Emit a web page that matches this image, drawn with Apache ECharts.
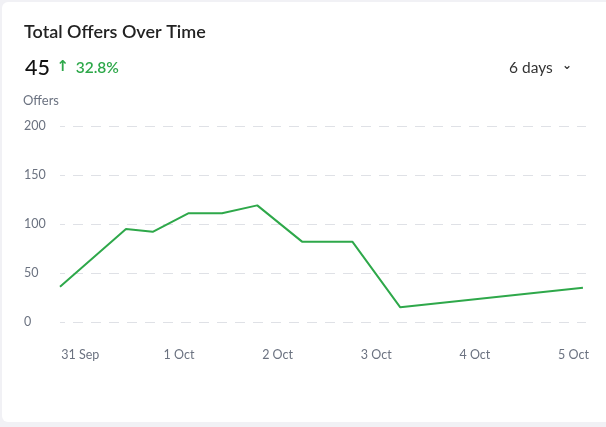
<!DOCTYPE html>
<html>
<head>
<meta charset="utf-8">
<script src="https://cdn.jsdelivr.net/npm/echarts@6/dist/echarts.min.js"></script>
<style>
  html, body { margin: 0; padding: 0; background: #f1f1f5; width: 606px; height: 427px; overflow: hidden; }
  #card { position: absolute; left: 2px; top: 2px; width: 610px; height: 420px; background: #ffffff; border-radius: 6px; }
  #chart { position: absolute; left: 0; top: 0; width: 606px; height: 427px; }
</style>
</head>
<body>
<div id="card"></div>
<div id="chart"></div>
<script>
// Tick labels for the x axis (placed at day positions 0..5)
const dayLabels = ['31 Sep', '1 Oct', '2 Oct', '3 Oct', '4 Oct', '5 Oct'];
const dayPositions = [0, 1, 2, 3, 4, 5];
// Point times (in days relative to "31 Sep" label) and offer counts
const pointTimes = [-0.206, 0.463, 0.734, 1.099, 1.437, 1.794, 2.248, 2.758, 3.244, 5.096];
const offerValues = [36, 95, 92, 111, 111, 119, 82, 82, 15, 35];
const yTicks = [0, 50, 100, 150, 200];

const FONT = 'Lato, "Open Sans", "Noto Sans", sans-serif';
const chart = echarts.init(document.getElementById('chart'), null, { renderer: 'canvas' });
chart.setOption({
  animation: false,
  textStyle: { fontFamily: FONT },
  title: [
    { text: 'Total Offers Over Time', left: 19, top: 18,
      textStyle: { fontFamily: FONT, fontSize: 18, fontWeight: 600, color: '#222222' } },
    { text: '{n|45} {a|↑} {p|32.8%}', left: 20, top: 52,
      textStyle: { fontWeight: 'normal', rich: {
        n: { fontFamily: FONT, fontSize: 21.5, color: '#111111', fontWeight: 500 },
        a: { fontFamily: 'DejaVu Sans, sans-serif', fontSize: 15, color: '#2ea84a', fontWeight: 'bold', padding: [0, 2, 1, 2] },
        p: { fontFamily: FONT, fontSize: 15.5, color: '#2ea84a', fontWeight: 600 }
      } } },
    { text: '{d|6 days}  {c|⌄}', left: 504, top: 54,
      textStyle: { fontWeight: 'normal', rich: {
        d: { fontFamily: FONT, fontSize: 15.5, color: '#333333', fontWeight: 'normal' },
        c: { fontFamily: 'DejaVu Sans, sans-serif', fontSize: 12, color: '#333333', fontWeight: 'bold', padding: [0, 0, 4, 0] }
      } } },
    { text: 'Offers', left: 18, top: 89,
      textStyle: { fontFamily: FONT, fontSize: 13, color: '#6b7280', fontWeight: 'normal' } }
  ],
  grid: { left: 60, right: 20, top: 126, bottom: 105, containLabel: false },
  xAxis: {
    type: 'value',
    min: -0.206,
    max: 5.127,
    axisLine: { show: false },
    axisTick: { show: false },
    splitLine: { show: false },
    axisLabel: {
      customValues: dayPositions,
      formatter: function (v) { return dayLabels[Math.round(v)]; },
      margin: 26,
      color: '#6b7280',
      fontSize: 12.5,
      fontFamily: FONT
    }
  },
  yAxis: {
    type: 'value',
    min: yTicks[0],
    max: yTicks[yTicks.length - 1],
    interval: 50,
    axisLine: { show: false },
    axisTick: { show: false },
    axisLabel: { margin: 36, align: 'left', color: '#6b7280', fontSize: 12.5, fontFamily: FONT },
    splitLine: { lineStyle: { color: '#dfe1e6', width: 1, type: [10, 8], dashOffset: 5 } }
  },
  series: [{
    type: 'line',
    data: pointTimes.map((t, i) => [t, offerValues[i]]),
    showSymbol: false,
    symbol: 'none',
    lineStyle: { color: '#2ea84a', width: 2 },
    itemStyle: { color: '#2ea84a' }
  }]
});
</script>
</body>
</html>
